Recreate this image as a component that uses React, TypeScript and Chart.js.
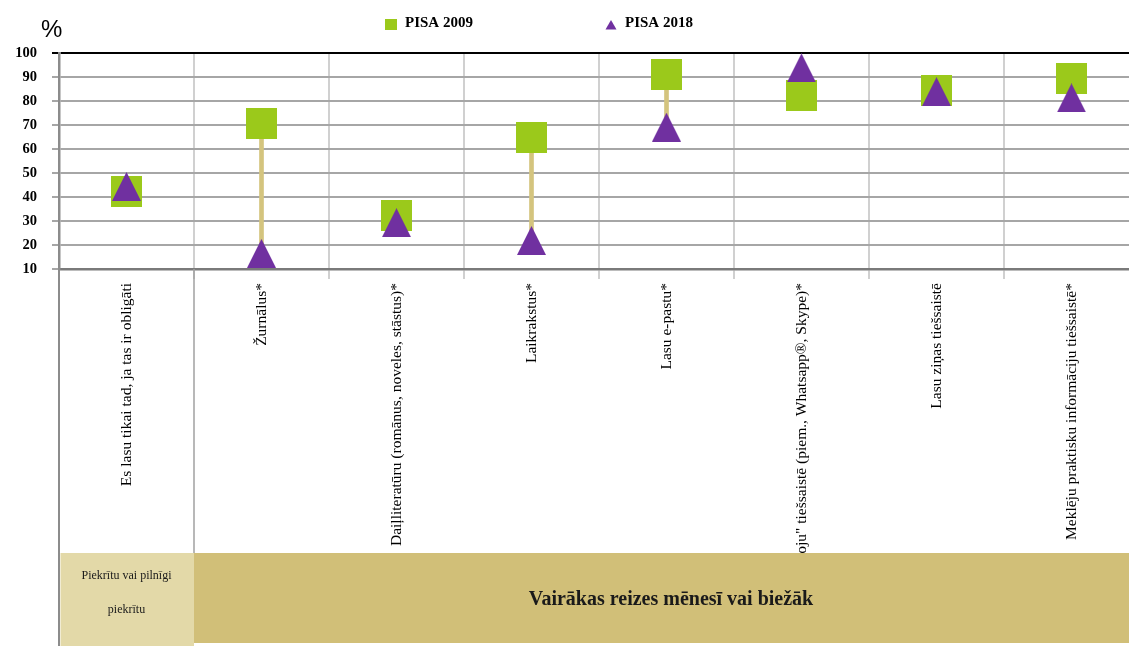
import { useEffect, useRef } from "react";
import { Chart, registerables } from "chart.js";

Chart.register(...registerables);

const categories = [
  "Es lasu tikai tad, ja tas ir obligāti",
  "Žurnālus*",
  "Daiļliteratūru (romānus, noveles, stāstus)*",
  "Laikrakstus*",
  "Lasu e-pastu*",
  "„Čatoju\" tiešsaistē (piem., Whatsapp®, Skype)*",
  "Lasu ziņas tiešsaistē",
  "Meklēju praktisku informāciju tiešsaistē*",
];

const pisa2009 = [42.3, 70.7, 32.5, 64.9, 91.0, 82.5, 84.4, 89.3];
const pisa2018 = [44.4, 16.5, 29.3, 21.9, 69.1, 93.8, 83.9, 81.3];

const seriesLabels = ["PISA 2009", "PISA 2018"];
const yMin = 10;
const yMax = 100;
const yStep = 10;

const groupLeftLines = ["Piekrītu vai pilnīgi", "piekrītu"];
const groupRightText = "Vairākas reizes mēnesī vai biežāk";
const unitLabel = "%";

const GREEN = "#9bc91b";
const PURPLE = "#7030a0";
const STEM = "#d4c47e";

function makeSquare(size: number, color: string) {
  const c = document.createElement("canvas");
  c.width = size;
  c.height = size;
  const g = c.getContext("2d")!;
  g.fillStyle = color;
  g.fillRect(0, 0, size, size);
  return c;
}

function makeTriangle(w: number, h: number, color: string) {
  const c = document.createElement("canvas");
  c.width = w;
  c.height = h;
  const g = c.getContext("2d")!;
  g.fillStyle = color;
  g.beginPath();
  g.moveTo(w / 2, 0);
  g.lineTo(w, h);
  g.lineTo(0, h);
  g.closePath();
  g.fill();
  return c;
}

const decorPlugin = {
  id: "decor",
  afterDraw(chart: any) {
    const ctx = chart.ctx as CanvasRenderingContext2D;
    const area = chart.chartArea;
    const xs = chart.scales.x;
    const H = chart.height;
    const W = 1129;
    const boxTop = 553;
    const divX = (xs.getPixelForValue(0) + xs.getPixelForValue(1)) / 2;

    ctx.save();
    // left axis extension
    ctx.strokeStyle = "#8c8c8c";
    ctx.lineWidth = 2;
    ctx.beginPath();
    ctx.moveTo(area.left, area.bottom);
    ctx.lineTo(area.left, H);
    ctx.stroke();
    // divider after first category
    ctx.strokeStyle = "#a0a0a0";
    ctx.lineWidth = 1.5;
    ctx.beginPath();
    ctx.moveTo(divX, area.bottom);
    ctx.lineTo(divX, boxTop);
    ctx.stroke();

    // group boxes
    ctx.fillStyle = "#e3d9a8";
    ctx.fillRect(area.left + 1.5, boxTop, divX - area.left - 1.5, H - boxTop);
    ctx.fillStyle = "#d1bf78";
    ctx.fillRect(divX, boxTop, W - divX, H - 3 - boxTop);

    ctx.fillStyle = "#1a1a1a";
    ctx.textAlign = "center";
    ctx.textBaseline = "middle";
    ctx.font = "12px 'Liberation Serif'";
    const c1 = (area.left + divX) / 2;
    ctx.fillText(groupLeftLines[0], c1, 576);
    ctx.fillText(groupLeftLines[1], c1, 610);
    ctx.font = "bold 20px 'Liberation Serif'";
    ctx.fillText(groupRightText, 671, 600);

    // unit label
    ctx.textAlign = "left";
    ctx.textBaseline = "alphabetic";
    ctx.fillStyle = "#000";
    ctx.font = "24px 'Liberation Sans'";
    ctx.fillText(unitLabel, 41, 37);

    // legend
    const ds = chart.data.datasets;
    ctx.font = "bold 15px 'Liberation Serif'";
    ctx.fillStyle = GREEN;
    ctx.fillRect(385, 19, 12, 11);
    ctx.fillStyle = "#000";
    ctx.fillText(ds[1].label, 405, 27);
    ctx.fillStyle = PURPLE;
    ctx.beginPath();
    ctx.moveTo(611, 20);
    ctx.lineTo(616.5, 29.5);
    ctx.lineTo(605.5, 29.5);
    ctx.closePath();
    ctx.fill();
    ctx.fillStyle = "#000";
    ctx.fillText(ds[2].label, 625, 27);
    ctx.restore();
  },
};

export default function App() {
  const ref = useRef<HTMLCanvasElement | null>(null);

  useEffect(() => {
    document.body.style.margin = "0";
    const sq = makeSquare(31, GREEN);
    const tri = makeTriangle(29, 29, PURPLE);
    const chart = new Chart(ref.current!, {
      type: "bar",
      data: {
        labels: categories,
        datasets: [
          {
            type: "bar",
            label: "range",
            data: categories.map((_, i) => [pisa2018[i], pisa2009[i]]) as any,
            backgroundColor: STEM,
            barThickness: 4,
            order: 3,
          },
          {
            type: "line",
            label: seriesLabels[0],
            data: pisa2009,
            showLine: false,
            pointStyle: sq as any,
            pointRadius: 15,
            order: 2,
          },
          {
            type: "line",
            label: seriesLabels[1],
            data: pisa2018,
            showLine: false,
            pointStyle: tri as any,
            pointRadius: 15,
            order: 1,
          },
        ],
      },
      options: {
        responsive: false,
        animation: false,
        layout: { padding: { top: 53, left: 0, right: 0, bottom: 0 } },
        plugins: { legend: { display: false }, tooltip: { enabled: false } },
        scales: {
          x: {
            type: "category",
            offset: true,
            grid: { offset: true, color: "#d0d0d0", lineWidth: 2, tickLength: 10 },
            border: { color: "#7a7a7a", width: 2.5 },
            ticks: {
              autoSkip: false,
              minRotation: 90,
              maxRotation: 90,
              padding: 4,
              color: "#000",
              font: { family: "'Liberation Serif'", size: 15.5 },
            },
            afterFit: (s: any) => {
              s.height = 377;
            },
          },
          y: {
            min: yMin,
            max: yMax,
            ticks: {
              stepSize: yStep,
              padding: 15,
              color: "#000",
              font: { family: "'Liberation Serif'", size: 14.5, weight: "bold" },
            },
            grid: {
              color: (c: any) => (c.tick && c.tick.value === yMax ? "#000" : "#a6a6a6"),
              lineWidth: 2,
              tickLength: 7,
            },
            border: { color: "#8c8c8c", width: 2.5 },
            afterFit: (s: any) => {
              s.width = 59;
            },
          },
        },
      },
      plugins: [decorPlugin],
    });
    return () => chart.destroy();
  }, []);

  return (
    <div style={{ position: "absolute", left: 0, top: 0, width: 1129, height: 646, overflow: "hidden", background: "#fff" }}>
      <canvas ref={ref} width={1155} height={646} />
    </div>
  );
}
